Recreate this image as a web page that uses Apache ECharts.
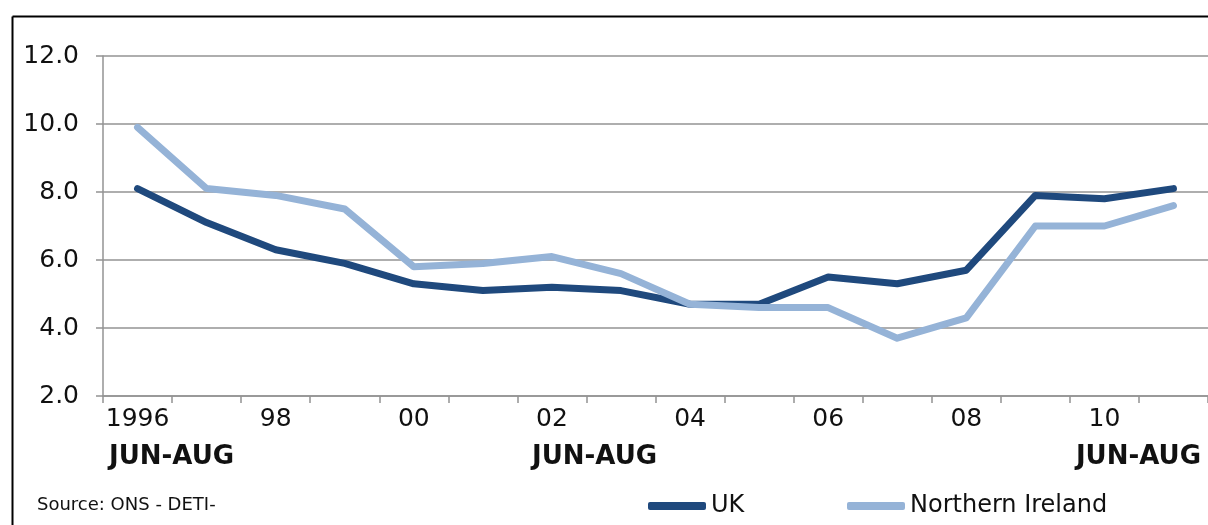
<!DOCTYPE html>
<html>
<head>
<meta charset="utf-8">
<script src="https://cdn.jsdelivr.net/npm/echarts@6/dist/echarts.min.js"></script>
<style>
  html, body { margin: 0; padding: 0; background: #ffffff; overflow: hidden; }
  #chart { width: 1208px; height: 525px; }
</style>
</head>
<body>
<div id="chart"></div>
<script>
// Unemployment rate (%), June-August each year
const years = ['1996', '97', '98', '99', '00', '01', '02', '03', '04', '05', '06', '07', '08', '09', '10', '11'];
const ukRate = [8.1, 7.1, 6.3, 5.9, 5.3, 5.1, 5.2, 5.1, 4.7, 4.7, 5.5, 5.3, 5.7, 7.9, 7.8, 8.1];
const niRate = [9.9, 8.1, 7.9, 7.5, 5.8, 5.9, 6.1, 5.6, 4.7, 4.6, 4.6, 3.7, 4.3, 7.0, 7.0, 7.6];
const yTicks = { min: 2, max: 12, interval: 2 };

const FONT = 'DejaVu Sans';
const UK_COLOR = '#1F497D';
const NI_COLOR = '#95B3D7';
const GRID_COLOR = '#939393';

const chart = echarts.init(document.getElementById('chart'), null, { renderer: 'canvas' });

const lineSeries = (name, data, color) => ({
  name: name,
  type: 'line',
  data: data,
  symbol: 'none',
  smooth: false,
  lineStyle: { color: color, width: 7, cap: 'round', join: 'round' },
  itemStyle: { color: color },
  emphasis: { disabled: true },
  animation: false
});

const legendBase = {
  orient: 'horizontal',
  top: 489,
  itemWidth: 58,
  itemHeight: 8,
  icon: 'roundRect',
  selectedMode: false,
  textStyle: { fontFamily: FONT, fontSize: 24, color: '#111111' }
};

const junAug = (pos) => Object.assign({
  type: 'text', silent: true, top: 444,
  style: { text: 'JUN-AUG', fontFamily: FONT, fontSize: 26, fontWeight: 'bold', fill: '#111111' }
}, pos);

chart.setOption({
  animation: false,
  backgroundColor: '#ffffff',
  grid: { left: 103, top: 56, bottom: 129, right: -4, containLabel: false },
  xAxis: {
    type: 'category',
    data: years,
    boundaryGap: true,
    axisLine: { show: true, lineStyle: { color: GRID_COLOR, width: 1.5 } },
    axisTick: { show: true, interval: 0, alignWithLabel: false, length: 7, lineStyle: { color: GRID_COLOR, width: 1.5 } },
    axisLabel: { interval: 1, margin: 11, fontFamily: FONT, fontSize: 25, color: '#111111' },
    splitLine: { show: false }
  },
  yAxis: {
    type: 'value',
    min: yTicks.min,
    max: yTicks.max,
    interval: yTicks.interval,
    axisLine: { show: true, lineStyle: { color: GRID_COLOR, width: 1.5 } },
    axisTick: { show: true, length: 7, lineStyle: { color: GRID_COLOR, width: 1.5 } },
    axisLabel: { margin: 24, fontFamily: FONT, fontSize: 25, color: '#111111', formatter: v => v.toFixed(1) },
    splitLine: { show: true, lineStyle: { color: GRID_COLOR, width: 1.5 } }
  },
  legend: [
    Object.assign({}, legendBase, { left: 643, data: ['UK'] }),
    Object.assign({}, legendBase, { left: 842, data: ['Northern Ireland'] })
  ],
  series: [
    lineSeries('UK', ukRate, UK_COLOR),
    lineSeries('Northern Ireland', niRate, NI_COLOR)
  ],
  graphic: [
    // chart frame: top and left edges
    {
      type: 'line', silent: true,
      shape: { x1: 12.5, y1: 16.5, x2: 1400, y2: 16.5 },
      style: { stroke: '#000000', lineWidth: 2 }
    },
    {
      type: 'line', silent: true,
      shape: { x1: 12.5, y1: 16.5, x2: 12.5, y2: 700 },
      style: { stroke: '#000000', lineWidth: 2 }
    },
    junAug({ left: 109 }),
    junAug({ left: 532 }),
    junAug({ right: 7 }),
    {
      type: 'text', silent: true, left: 37, top: 496,
      style: { text: 'Source: ONS - DETI-', fontFamily: FONT, fontSize: 18, fill: '#111111' }
    }
  ]
});
</script>
</body>
</html>
